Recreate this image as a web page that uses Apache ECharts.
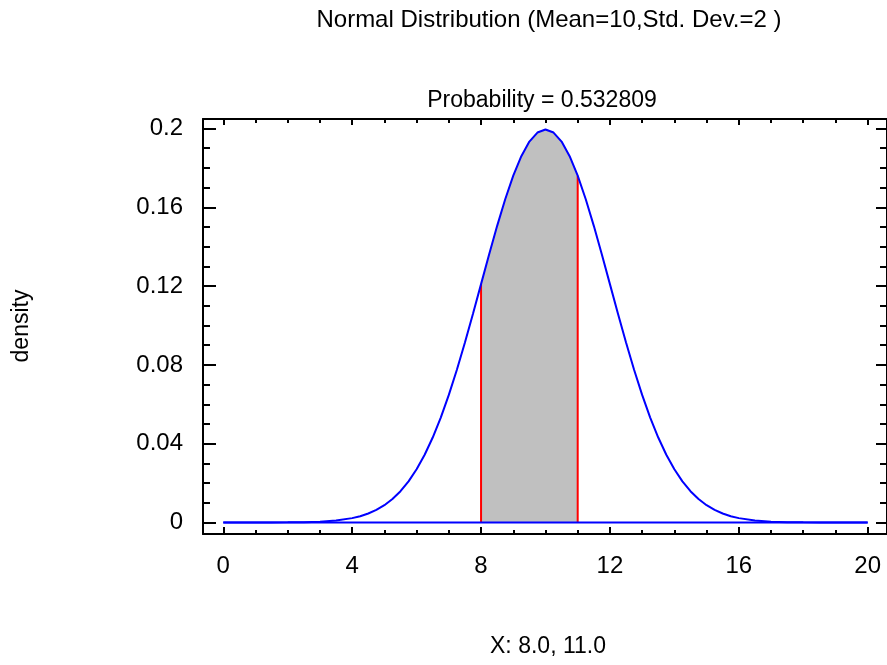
<!DOCTYPE html>
<html>
<head>
<meta charset="utf-8">
<script src="https://cdn.jsdelivr.net/npm/echarts@6/dist/echarts.min.js"></script>
<style>
html,body{margin:0;padding:0;background:#fff;}
#chart{width:887px;height:665px;}
</style>
</head>
<body>
<div id="chart"></div>
<script>
// ---- data ----
const xs = [0,0.5,1,1.5,2,2.5,3,3.5,4,4.25,4.5,4.75,5,5.25,5.5,5.75,6,6.25,6.5,6.75,7,7.25,7.5,7.75,8,8.25,8.5,8.75,9,9.25,9.5,9.75,10,
            10.25,10.5,10.75,11,11.25,11.5,11.75,12,12.25,12.5,12.75,13,13.25,13.5,13.75,14,14.25,14.5,14.75,15,15.25,15.5,15.75,16,16.5,17,17.5,18,18.5,19,19.5,20];
const density = [0.0000007,0.0000025,0.0000080,0.0000240,0.0000669,0.000177,0.000436,0.001015,0.002216,0.003200,0.004547,0.006366,0.008764,0.011885,0.015870,0.020860,0.026995,0.034390,0.043139,0.053270,0.064759,0.077510,0.091325,0.105940,0.120985,0.136030,0.150569,0.164080,0.176033,0.185930,0.193334,0.197920,0.199471,
            0.197920,0.193334,0.185930,0.176033,0.164080,0.150569,0.136030,0.120985,0.105940,0.091325,0.077510,0.064759,0.053270,0.043139,0.034390,0.026995,0.020860,0.015870,0.011885,0.008764,0.006366,0.004547,0.003200,0.002216,0.001015,0.000436,0.000177,0.0000669,0.0000240,0.0000080,0.0000025,0.0000007];
const lowerLimit = 8;
const upperLimit = 11;
const baseline = [[0,0],[20,0]];
const xMajorTicks = [0,4,8,12,16,20];
const xMinorTicks = [1,2,3,5,6,7,9,10,11,13,14,15,17,18,19];
const xTickLabels = ['0','4','8','12','16','20'];
const yMajorTicks = [0,0.04,0.08,0.12,0.16,0.2];
const yMinorTicks = [0.01,0.02,0.03,0.05,0.06,0.07,0.09,0.1,0.11,0.13,0.14,0.15,0.17,0.18,0.19];
const yTickLabels = ['0','0.04','0.08','0.12','0.16','0.2'];
const titleText = 'Normal Distribution (Mean=10,Std. Dev.=2 )';
const subtitleText = 'Probability = 0.532809';
const xAxisTitle = 'X: 8.0, 11.0';
const yAxisTitle = 'density';

// ---- chart ----
const FONT = '"Liberation Sans", Arial, sans-serif';
const X_MIN = -0.63, X_MAX = 20.6;
const Y_MIN = -0.00584, Y_MAX = 0.2048;

const curve = xs.map((x, i) => [x, density[i]]);
const shaded = curve.filter(p => p[0] >= lowerLimit && p[0] <= upperLimit);
const yAt = v => density[xs.indexOf(v)];

const tickStyle = {color: '#000', width: 2};
function axis(kind, pos, ticks, len, showLine, labels, labelVals) {
  const a = {
    type: 'value', position: pos,
    min: kind === 'x' ? X_MIN : Y_MIN,
    max: kind === 'x' ? X_MAX : Y_MAX,
    axisLine: {show: showLine, onZero: false, lineStyle: {color: '#000', width: 2}},
    axisTick: {show: true, inside: true, length: len, customValues: ticks, lineStyle: tickStyle},
    splitLine: {show: false},
    axisLabel: {show: false}
  };
  if (labels) {
    a.axisLabel = {
      show: true, customValues: labelVals,
      color: '#000', fontSize: 24, fontFamily: FONT,
      margin: kind === 'x' ? 20 : 20,
      formatter: v => {
        let best = 0;
        labelVals.forEach((t, i) => { if (Math.abs(t - v) < Math.abs(labelVals[best] - v)) best = i; });
        return labels[best];
      }
    };
  }
  return a;
}

const chart = echarts.init(document.getElementById('chart'), null, {renderer: 'canvas'});
chart.setOption({
  animation: false,
  backgroundColor: '#fff',
  grid: {left: 203, top: 119, width: 685, height: 415, containLabel: false},
  xAxis: [
    axis('x', 'bottom', xMajorTicks, 7, true, xTickLabels, xMajorTicks),
    axis('x', 'bottom', xMinorTicks, 4, false),
    axis('x', 'top', xMajorTicks, 6, true),
    axis('x', 'top', xMinorTicks, 4, false)
  ],
  yAxis: [
    axis('y', 'left', yMajorTicks, 13, true, yTickLabels, yMajorTicks),
    axis('y', 'left', yMinorTicks, 7, false),
    axis('y', 'right', yMajorTicks, 11, true),
    axis('y', 'right', yMinorTicks, 7, false)
  ],
  series: [
    {type: 'line', data: shaded, symbol: 'none', lineStyle: {width: 0, opacity: 0},
     areaStyle: {color: '#c0c0c0', opacity: 1}, z: 1, silent: true},
    {type: 'line', data: [[lowerLimit, 0], [lowerLimit, yAt(lowerLimit)]], symbol: 'none',
     lineStyle: {color: '#ff0000', width: 2}, z: 2},
    {type: 'line', data: [[upperLimit, 0], [upperLimit, yAt(upperLimit)]], symbol: 'none',
     lineStyle: {color: '#ff0000', width: 2}, z: 2},
    {type: 'line', data: curve, symbol: 'none', lineStyle: {color: '#0000ff', width: 2}, z: 3},
    {type: 'line', data: baseline, symbol: 'none', lineStyle: {color: '#0000ff', width: 2}, z: 3}
  ],
  graphic: [
    {type: 'text', x: 549, y: 20, style: {text: titleText, fill: '#000', font: '24px ' + FONT, textAlign: 'center', textVerticalAlign: 'middle'}},
    {type: 'text', x: 542, y: 101, style: {text: subtitleText, fill: '#000', font: '23px ' + FONT, textAlign: 'center', textVerticalAlign: 'middle'}},
    {type: 'text', x: 548, y: 647, style: {text: xAxisTitle, fill: '#000', font: '23px ' + FONT, textAlign: 'center', textVerticalAlign: 'middle'}},
    {type: 'text', x: 22, y: 326, rotation: Math.PI / 2, style: {text: yAxisTitle, fill: '#000', font: '23px ' + FONT, textAlign: 'center', textVerticalAlign: 'middle'}}
  ]
});
</script>
</body>
</html>
